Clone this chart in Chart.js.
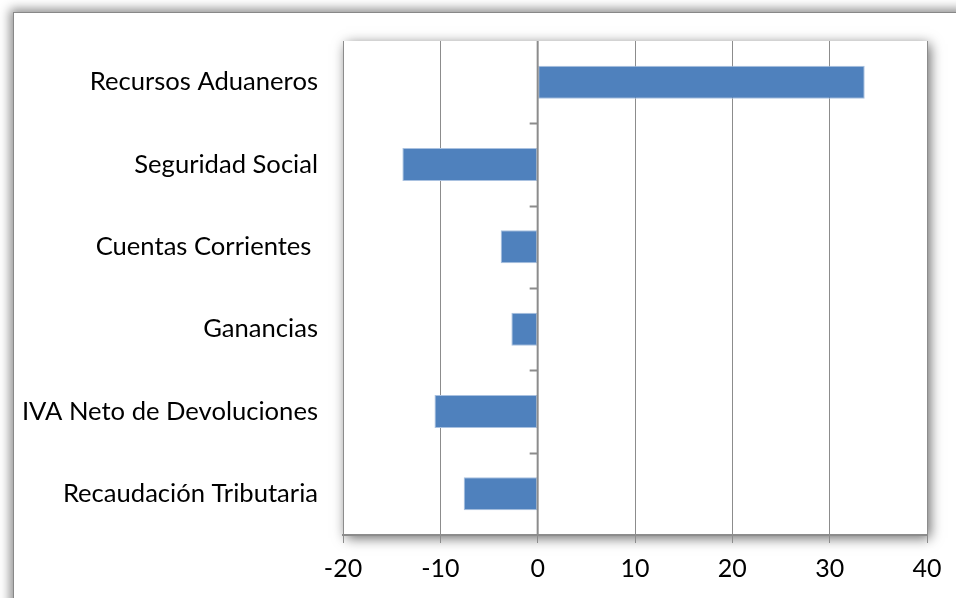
<!DOCTYPE html>
<html>
<head>
<meta charset="utf-8">
<script src="https://cdn.jsdelivr.net/npm/chart.js@4/dist/chart.umd.min.js"></script>
<style>
  html, body { margin: 0; padding: 0; width: 956px; height: 598px; overflow: hidden; background: #ffffff; }
  #frame { position: absolute; left: 13px; top: 12px; width: 1200px; height: 900px; border: 1px solid #888888; box-shadow: 0 0 10px 3px rgba(0,0,0,0.45); background: #ffffff; }
  #c { position: absolute; left: 0; top: 0; }
</style>
</head>
<body>
<div id="frame"></div>
<canvas id="c" width="956" height="598"></canvas>
<script>
const categories = ['Recursos Aduaneros', 'Seguridad Social', 'Cuentas Corrientes ', 'Ganancias', 'IVA Neto de Devoluciones', 'Recaudación Tributaria'];
const values = [33.6, -13.9, -3.8, -2.7, -10.6, -7.6];
const xMin = -20, xMax = 40, xStep = 10;

const FONT = 'Lato, "Noto Sans", sans-serif';
const GRID = '#8c8c8c';

const plotBg = {
  id: 'plotBg',
  beforeDraw(chart) {
    const { ctx, chartArea: a } = chart;
    ctx.save();
    ctx.shadowColor = 'rgba(0,0,0,0.6)';
    ctx.shadowBlur = 12;
    ctx.shadowOffsetX = 3;
    ctx.shadowOffsetY = 3;
    ctx.fillStyle = '#ffffff';
    ctx.fillRect(a.left, a.top, a.right - a.left, a.bottom - a.top);
    ctx.restore();
  },
  afterDatasetsDraw(chart) {
    const { ctx, chartArea: a, scales } = chart;
    const x0 = scales.x.getPixelForValue(0);
    ctx.save();
    ctx.strokeStyle = GRID;
    ctx.lineWidth = 2;
    ctx.beginPath();
    ctx.moveTo(x0, a.top);
    ctx.lineTo(x0, a.bottom);
    for (let i = 1; i < categories.length; i++) {
      const y = Math.round(scales.y.getPixelForValue(i - 0.5)) + 0.5;
      ctx.moveTo(x0 - 8, y);
      ctx.lineTo(x0, y);
    }
    ctx.stroke();
    ctx.restore();
  }
};

new Chart(document.getElementById('c'), {
  type: 'bar',
  data: {
    labels: categories,
    datasets: [{
      data: values,
      backgroundColor: '#4f81bd',
      borderColor: '#a9c1e0',
      borderWidth: 1,
      borderSkipped: false,
      categoryPercentage: 1,
      barPercentage: 0.4
    }]
  },
  options: {
    indexAxis: 'y',
    responsive: false,
    devicePixelRatio: 1,
    animation: false,
    layout: { padding: { left: 0, top: 41, right: 29, bottom: 0 } },
    plugins: { legend: { display: false }, tooltip: { enabled: false } },
    scales: {
      x: {
        min: xMin, max: xMax,
        afterFit(s) { s.height = 63; },
        ticks: { stepSize: xStep, color: '#000', font: { family: FONT, size: 25 }, padding: 11 },
        grid: { color: GRID, lineWidth: 1, drawTicks: true, tickLength: 8, tickColor: GRID },
        border: { display: true, color: GRID, width: 2 }
      },
      y: {
        afterFit(s) { s.width = 343; },
        ticks: { color: '#000', font: { family: FONT, size: 25.6 }, padding: 25 },
        grid: { display: false, drawTicks: false },
        border: { display: false }
      }
    }
  },
  plugins: [plotBg]
});
</script>
</body>
</html>
